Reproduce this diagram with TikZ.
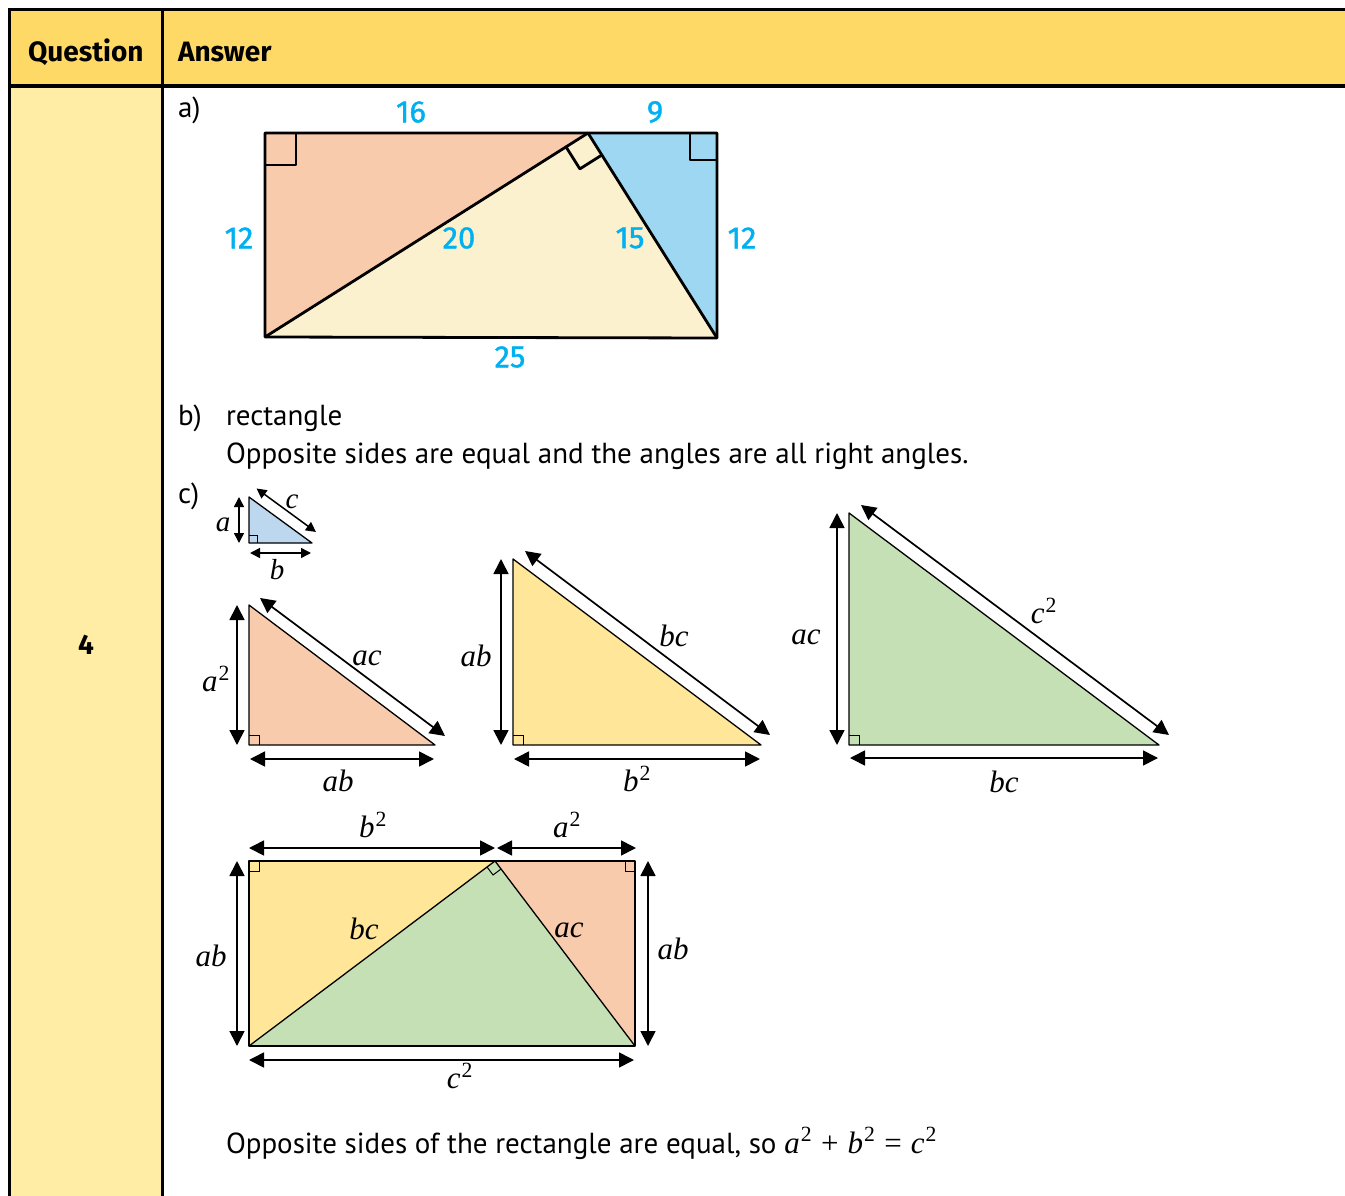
\RequirePackage{fix-cm}
\documentclass[tikz,border=0pt]{standalone}
\usepackage{fontspec}
\setmainfont{PT Sans}
\newfontfamily\hfont{Fira Sans}
\newfontfamily\numfont[FakeBold=1.2]{Fira Sans}
\newfontfamily\mfont{Liberation Serif}
\newcommand\lv[1]{{\mfont\itshape #1}}
\newcommand\sq{\kern1pt\textsuperscript{\mfont 2}}
\newcommand\opsym[1]{\hspace{9pt}{\mfont #1}\hspace{9pt}}
\usetikzlibrary{arrows.meta,calc}
\definecolor{hdr}{HTML}{FFD966}
\definecolor{qcol}{HTML}{FFECA5}
\definecolor{cyanl}{HTML}{00B0F0}
\definecolor{salmon}{HTML}{F8CBAD}
\definecolor{cream}{HTML}{FCF1CE}
\definecolor{skyb}{HTML}{9DD7F2}
\definecolor{paleb}{HTML}{BDD7EE}
\definecolor{yel}{HTML}{FFE699}
\definecolor{grn}{HTML}{C5E0B4}
\begin{document}
\begin{tikzpicture}[x=1pt,y=-1pt,
  every node/.style={inner sep=0pt, outer sep=0pt},
  hd/.style={font=\hfont\bfseries\fontsize{28}{32}\selectfont, anchor=base west},
  body/.style={font=\fontsize{29}{35}\selectfont, anchor=base west},
  num/.style={font=\numfont\fontsize{31}{38}\selectfont, text=cyanl},
  ml/.style={font=\fontsize{31}{38}\selectfont},
  sml/.style={font=\fontsize{29}{34}\selectfont},
  tbl/.style={line width=3.2pt},
  figa/.style={draw=black, line width=2.8pt, line join=round},
  tri/.style={draw=black, line width=1.3pt, line join=round},
  ramark/.style={draw=black, line width=1pt},
  dimarr/.style={line width=1.7pt, {Triangle[length=15pt,width=15pt]}-{Triangle[length=15pt,width=15pt]}},
  sdimarr/.style={line width=1.5pt, {Triangle[length=10pt,width=10pt]}-{Triangle[length=10pt,width=10pt]}}
]
\useasboundingbox (0,0) rectangle (1345,1196);
% ---------- table ----------
\fill[hdr] (10,10) rectangle (1345,86);
\fill[qcol] (10,86) rectangle (162,1196);
\draw[tbl] (1345,9.5) -- (9.5,9.5) -- (9.5,1196);
\draw[tbl] (9.5,86) -- (1345,86);
\draw[tbl] (162.5,9.5) -- (162.5,1196);
\node[hd] (qh) at (28,62) {Question};
\node[hd] (ah) at (178,62) {Answer};
\node[font=\hfont\bfseries\fontsize{28}{32}\selectfont] (q4) at (86,645) {4};
% ---------- part a ----------
\node[body] (pa) at (178,118) {a)};
\coordinate (TL) at (265,133);
\coordinate (TR) at (717,133);
\coordinate (BL) at (265,337);
\coordinate (BR) at (717,338);
\coordinate (A) at (588,133);
\fill[salmon] (TL) -- (A) -- (BL) -- cycle;
\fill[cream] (BL) -- (A) -- (BR) -- cycle;
\fill[skyb] (A) -- (TR) -- (BR) -- cycle;
\draw[figa] (265,133) rectangle (296,165);
\draw[figa] (690,133) rectangle (717,160);
\coordinate (P1) at ($(A)!26pt!(BL)$);
\coordinate (P3) at ($(A)!26pt!(BR)$);
\draw[figa] (P1) -- ($(P1)+(P3)-(A)$) -- (P3);
\draw[figa] (TL) -- (TR) -- (BR) -- (BL) -- cycle;
\draw[figa] (BL) -- (A) -- (BR);
\node[num] (n16) at (411,112) {16};
\node[num] (n9) at (655,112) {9};
\node[num] (n12a) at (239,238) {12};
\node[num] (n20) at (459,238) {20};
\node[num] (n15) at (630,238) {15};
\node[num] (n12b) at (742,238) {12};
\node[num] (n25) at (510,357) {25};
% ---------- part b ----------
\node[body] (pb) at (178,425) {b)};
\node[body] (rect) at (226,425) {rectangle};
\node[body] (opp) at (226,463) {Opposite sides are equal and the angles are all right angles.};
% ---------- part c ----------
\node[body] (pc) at (178,503) {c)};
% small triangle
\coordinate (r0) at (249,543);
\coordinate (t0) at (249,497);
\coordinate (e0) at (312,543);
\fill[paleb] (r0) -- (t0) -- (e0) -- cycle;
\draw[ramark] (249,535) -- (257,535) -- (257,543);
\draw[tri] (r0) -- (t0) -- (e0) -- cycle;
\coordinate (s0a) at (239,497); \coordinate (s0b) at (239,543);
\draw[sdimarr] (s0a) -- (s0b);
\coordinate (s0c) at (250,553); \coordinate (s0d) at (311,553);
\draw[sdimarr] (s0c) -- (s0d);
\coordinate (s0e) at (256.5,488.5); \coordinate (s0f) at (316,532);
\draw[sdimarr] (s0e) -- (s0f);
\node[sml] (la0) at (223,525) {\lv{a}};
\node[sml] (lb0) at (277,570) {\lv{b}};
\node[sml] (lc0) at (292,502) {\lv{c}};
% triangle 1
\coordinate (r1) at (249,745);
\coordinate (t1) at (249,605);
\coordinate (e1) at (435,745);
\fill[salmon] (r1) -- (t1) -- (e1) -- cycle;
\draw[ramark] (249,735) -- (259,735) -- (259,745);
\draw[tri] (r1) -- (t1) -- (e1) -- cycle;
\coordinate (v1a) at (237,605); \coordinate (v1b) at (237,745);
\draw[dimarr] (v1a) -- (v1b);
\coordinate (h1a) at (250,759); \coordinate (h1b) at (434,759);
\draw[dimarr] (h1a) -- (h1b);
\coordinate (d1a) at (260,598); \coordinate (d1b) at (445,736);
\draw[dimarr] (d1a) -- (d1b);
\node[ml] (l1a) at (216,679) {\lv{a}\sq};
\node[ml] (l1b) at (338,781) {\lv{ab}};
\node[ml] (l1c) at (367,658) {\lv{ac}};
% triangle 2
\coordinate (r2) at (513,745);
\coordinate (t2) at (513,559);
\coordinate (e2) at (761,745);
\fill[yel] (r2) -- (t2) -- (e2) -- cycle;
\draw[ramark] (513,735) -- (523,735) -- (523,745);
\draw[tri] (r2) -- (t2) -- (e2) -- cycle;
\coordinate (v2a) at (501,559); \coordinate (v2b) at (501,745);
\draw[dimarr] (v2a) -- (v2b);
\coordinate (h2a) at (514,759); \coordinate (h2b) at (760,759);
\draw[dimarr] (h2a) -- (h2b);
\coordinate (d2a) at (525,551); \coordinate (d2b) at (770,735);
\draw[dimarr] (d2a) -- (d2b);
\node[ml] (l2a) at (476,656) {\lv{ab}};
\node[ml] (l2b) at (637,779) {\lv{b}\sq};
\node[ml] (l2c) at (674,636) {\lv{bc}};
% triangle 3
\coordinate (r3) at (849,745);
\coordinate (t3) at (849,513);
\coordinate (e3) at (1159,745);
\fill[grn] (r3) -- (t3) -- (e3) -- cycle;
\draw[ramark] (849,735) -- (859,735) -- (859,745);
\draw[tri] (r3) -- (t3) -- (e3) -- cycle;
\coordinate (v3a) at (837,513); \coordinate (v3b) at (837,745);
\draw[dimarr] (v3a) -- (v3b);
\coordinate (h3a) at (850,758); \coordinate (h3b) at (1158,758);
\draw[dimarr] (h3a) -- (h3b);
\coordinate (d3a) at (861,505); \coordinate (d3b) at (1169,735);
\draw[dimarr] (d3a) -- (d3b);
\node[ml] (l3a) at (806,637) {\lv{ac}};
\node[ml] (l3b) at (1004,782) {\lv{bc}};
\node[ml] (l3c) at (1044,611) {\lv{c}\sq};
% bottom rectangle
\coordinate (RTL) at (249,861);
\coordinate (RTR) at (635,861);
\coordinate (RBL) at (249,1046);
\coordinate (RBR) at (635,1046);
\coordinate (Q) at (495,861);
\fill[yel] (RTL) -- (Q) -- (RBL) -- cycle;
\fill[salmon] (Q) -- (RTR) -- (RBR) -- cycle;
\fill[grn] (RBL) -- (Q) -- (RBR) -- cycle;
\draw[ramark] (249,871) -- (259,871) -- (259,861);
\draw[ramark] (625,861) -- (625,871) -- (635,871);
\coordinate (Q1) at ($(Q)!10pt!(RBL)$);
\coordinate (Q3) at ($(Q)!10pt!(RBR)$);
\draw[ramark] (Q1) -- ($(Q1)+(Q3)-(Q)$) -- (Q3);
\draw[tri] (RTL) -- (RTR) -- (RBR) -- (RBL) -- cycle;
\draw[tri] (RBL) -- (Q) -- (RBR);
\coordinate (ta) at (249,848); \coordinate (tb) at (495,848);
\draw[dimarr] (ta) -- (tb);
\coordinate (tc) at (497,848); \coordinate (td) at (636,848);
\draw[dimarr] (tc) -- (td);
\coordinate (la) at (237,861); \coordinate (lb) at (237,1046);
\draw[dimarr] (la) -- (lb);
\coordinate (ra) at (648,861); \coordinate (rb) at (648,1046);
\draw[dimarr] (ra) -- (rb);
\coordinate (ba) at (249,1060); \coordinate (bb) at (634,1060);
\draw[dimarr] (ba) -- (bb);
\node[ml] (m1) at (373,825) {\lv{b}\sq};
\node[ml] (m2) at (567,825) {\lv{a}\sq};
\node[ml] (m3) at (211,956) {\lv{ab}};
\node[ml] (m4) at (673,949) {\lv{ab}};
\node[ml] (m5) at (364,929) {\lv{bc}};
\node[ml] (m6) at (569,930) {\lv{ac}};
\node[ml] (m7) at (460,1076) {\lv{c}\sq};
\node[body] (fin) at (226,1153) {Opposite sides of the rectangle are equal, so {\mfont\fontsize{31}{35}\selectfont\lv{a}\sq\opsym{+}\lv{b}\sq\opsym{=}\lv{c}\sq}};
\end{tikzpicture}
\end{document}
